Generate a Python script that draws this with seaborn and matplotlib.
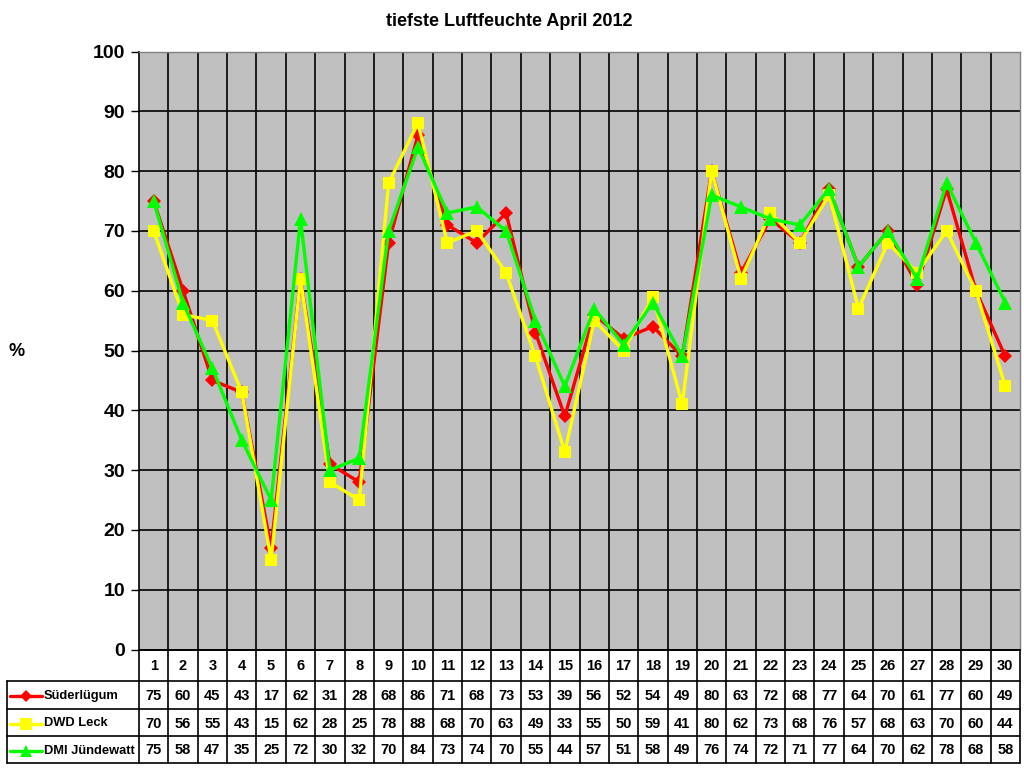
import matplotlib
matplotlib.use("Agg")
import matplotlib.pyplot as plt
import seaborn as sns
import pandas as pd
import numpy as np

days = list(range(1, 31))
suederluegum = [75, 60, 45, 43, 17, 62, 31, 28, 68, 86, 71, 68, 73, 53, 39, 56, 52, 54, 49, 80, 63, 72, 68, 77, 64, 70, 61, 77, 60, 49]
dwd_leck = [70, 56, 55, 43, 15, 62, 28, 25, 78, 88, 68, 70, 63, 49, 33, 55, 50, 59, 41, 80, 62, 73, 68, 76, 57, 68, 63, 70, 60, 44]
dmi_juendewatt = [75, 58, 47, 35, 25, 72, 30, 32, 70, 84, 73, 74, 70, 55, 44, 57, 51, 58, 49, 76, 74, 72, 71, 77, 64, 70, 62, 78, 68, 58]
series_names = ["Süderlügum", "DWD Leck", "DMI Jündewatt"]
title = "tiefste Luftfeuchte April 2012"
y_label = "%"

series_values = [suederluegum, dwd_leck, dmi_juendewatt]
colors = {"Süderlügum": "#FF0000", "DWD Leck": "#FFFF00", "DMI Jündewatt": "#00FF00"}
markers = {"Süderlügum": "D", "DWD Leck": "s", "DMI Jündewatt": "^"}
msizes = {"Süderlügum": 7, "DWD Leck": 9, "DMI Jündewatt": 10}

df = pd.DataFrame({
    "day": days * 3,
    "value": suederluegum + dwd_leck + dmi_juendewatt,
    "station": sum([[n] * 30 for n in series_names], []),
})

sns.set_theme(style="white")
plt.rcParams["font.family"] = ["Liberation Sans", "DejaVu Sans"]
plt.rcParams["font.weight"] = "bold"
plt.rcParams["text.color"] = "black"
plt.rcParams["ytick.color"] = "black"
plt.rcParams["xtick.color"] = "black"
plt.rcParams["axes.labelcolor"] = "black"

W, H = 1024, 768
fig = plt.figure(figsize=(W / 100, H / 100), dpi=100)
L, R, T, B = 139, 1020, 51.5, 649.5
ax = fig.add_axes([L / W, (H - B) / H, (R - L) / W, (B - T) / H])
ax.set_facecolor("#C0C0C0")

for i, name in enumerate(series_names):
    sub = df[df["station"] == name]
    sns.lineplot(data=sub, x="day", y="value", ax=ax, color=colors[name],
                 marker=markers[name], markersize=msizes[name], markeredgewidth=0,
                 linewidth=2.4, legend=False, zorder=3 + i)

ax.set_xlim(0.5, 30.5)
ax.set_ylim(0, 100)
ax.set_yticks(range(0, 101, 10))
ax.set_xticks([d + 0.5 for d in days[:-1]], minor=True)
ax.set_xticks([])
ax.grid(True, which="minor", axis="x", color="black", linewidth=1.2)
ax.grid(True, which="major", axis="y", color="black", linewidth=1.2)
ax.set_axisbelow(True)
ax.tick_params(axis="y", which="major", direction="out", length=6, width=1, color="black",
               labelcolor="black", labelsize=14, pad=4, left=True)
for lbl in ax.get_yticklabels():
    lbl.set_fontweight("bold")
ax.set_xlabel("")
ax.set_ylabel("")
for s in ["left", "bottom"]:
    ax.spines[s].set_color("black")
    ax.spines[s].set_linewidth(1.2)
for s in ["top", "right"]:
    ax.spines[s].set_color("#808080")
    ax.spines[s].set_linewidth(1.0)

fig.text(509 / W, 1 - 21 / H, title, ha="center", va="center", fontsize=13, fontweight="bold", color="black")
fig.text(17 / W, 1 - 351 / H, y_label, ha="center", va="center", fontsize=13, fontweight="bold", color="black")

# data table
TL, TB = 7, 763
tax = fig.add_axes([TL / W, (H - TB) / H, (R - TL) / W, (TB - B) / H])
unit = (R - L) / 30.0
def px2u(px):
    return 0.5 + (px - L) / unit
x_left = px2u(TL)
tax.set_xlim(x_left, 30.5)
tax.set_ylim(TB, B)
tax.axis("off")
rows = [B, 681, 709, 736, TB]
lw = 1.2
tax.plot([0.5, 30.5], [B, B], color="black", lw=lw, clip_on=False)
for i in range(31):
    tax.plot([0.5 + i, 0.5 + i], [B, TB], color="black", lw=lw, clip_on=False)
tax.plot([x_left, x_left], [rows[1], TB], color="black", lw=lw, clip_on=False)
for yv in rows[1:]:
    tax.plot([x_left, 30.5], [yv, yv], color="black", lw=lw, clip_on=False)
for d in days:
    tax.text(d, (rows[0] + rows[1]) / 2 + 1, str(d), ha="center", va="center", fontsize=10.5,
             fontweight="bold", color="black")
for r, (name, vals) in enumerate(zip(series_names, series_values)):
    yc = (rows[r + 1] + rows[r + 2]) / 2 + 1
    for d, v in zip(days, vals):
        tax.text(d, yc, str(v), ha="center", va="center", fontsize=10.5, fontweight="bold", color="black")
    tax.plot([px2u(10), px2u(42)], [yc, yc], color=colors[name], lw=2.4, clip_on=False)
    tax.plot([px2u(26)], [yc], color=colors[name], marker=markers[name],
             markersize=msizes[name] - 1, markeredgewidth=0, clip_on=False)
    tax.text(px2u(44), yc, name, ha="left", va="center", fontsize=9.3, fontweight="bold", color="black")

fig.savefig("out.png", dpi=100, facecolor="white")
